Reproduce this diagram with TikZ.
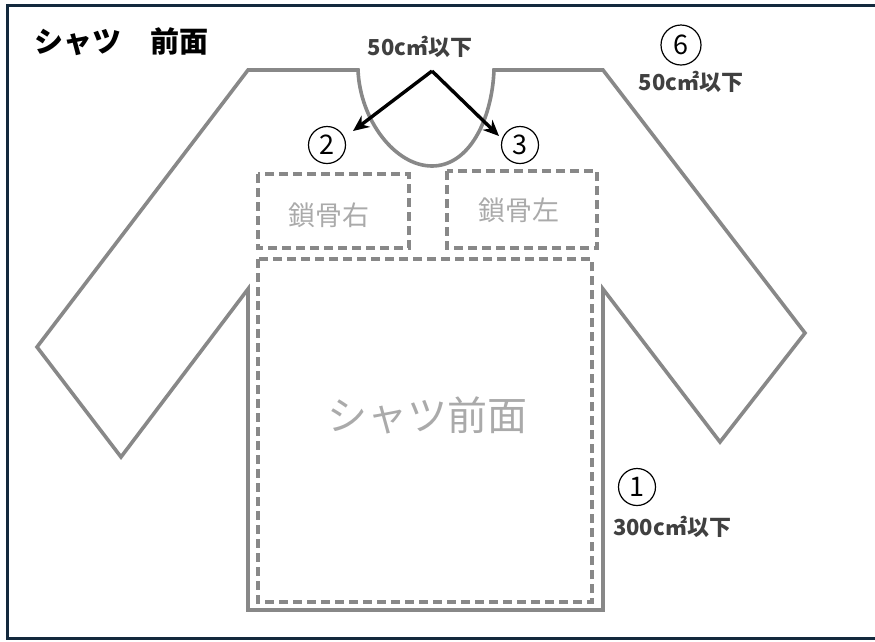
\documentclass[tikz,border=0pt]{standalone}
\usepackage{fontspec}
\setmainfont{Noto Sans CJK JP}
\usetikzlibrary{arrows.meta}
\definecolor{framec}{HTML}{13293D}
\definecolor{shirtc}{HTML}{888888}
\definecolor{boxtxt}{HTML}{AAAAAA}
\definecolor{labc}{HTML}{404040}
\tikzset{
  shirt/.style={draw=shirtc, line width=3.6pt, line join=miter},
  zone/.style={draw=shirtc, line width=3.4pt, dash pattern=on 9pt off 5pt},
  zonetxt/.style={text=boxtxt, font=\fontsize{27}{30}\selectfont},
  numc/.style={circle, draw=black, line width=1.2pt, minimum size=37pt, inner sep=0pt, font=\fontsize{27}{28}\selectfont},
  limit/.style={text=labc, font=\bfseries\fontsize{22}{24}\selectfont, inner sep=0pt},
  pointer/.style={draw=black, line width=3.4pt, -{Stealth[length=16pt,width=14pt]}}
}
\begin{document}
\begin{tikzpicture}[x=1pt,y=-1pt]
\useasboundingbox (0,0) rectangle (875,641);
% frame
\draw[framec, line width=3.4pt] (885,5.5) -- (7.5,5.5) -- (7.5,638.5) -- (885,638.5);
% shirt outline
\draw[shirt] (358,70) -- (248,70) -- (37,347) -- (121,457) -- (248,289) -- (248,610)
  -- (603,610) -- (603,289) -- (720,442) -- (805,333) -- (603,70) -- (494,70)
  .. controls (492,120) and (469,166) .. (432,166)
  .. controls (395,166) and (360,120) .. (358,70) -- cycle;
% zones
\draw[zone] (258,259) rectangle (592,602);
\draw[zone] (258,174) rectangle (409,248);
\draw[zone] (447,171) rectangle (597,248);
\node[zonetxt] (clavR) at (329,215) {鎖骨右};
\node[zonetxt] (clavL) at (519,210) {鎖骨左};
\node[text=boxtxt, font=\fontsize{40}{44}\selectfont] (front) at (427,415) {シャツ前面};
% title
\node[anchor=west, font=\bfseries\fontsize{29}{32}\selectfont, inner sep=0pt] (title) at (34,42) {シャツ　前面};
% neck labels
\node[limit] (lab23) at (420,47) {50c㎡以下};
\coordinate (apex) at (432,71);
\coordinate (tipL) at (353,131);
\coordinate (tipR) at (499,136);
\draw[pointer] (apex) -- (tipL);
\draw[pointer] (apex) -- (tipR);
\node[numc] (n2) at (327,145) {2};
\node[numc] (n3) at (520,145) {3};
% sleeve label
\node[numc, minimum size=40pt] (n6) at (681,45) {6};
\node[limit] (lab6) at (691,82) {50c㎡以下};
% body label
\node[numc] (n1) at (637,487) {1};
\node[limit] (lab1) at (672,527) {300c㎡以下};
\end{tikzpicture}
\end{document}
